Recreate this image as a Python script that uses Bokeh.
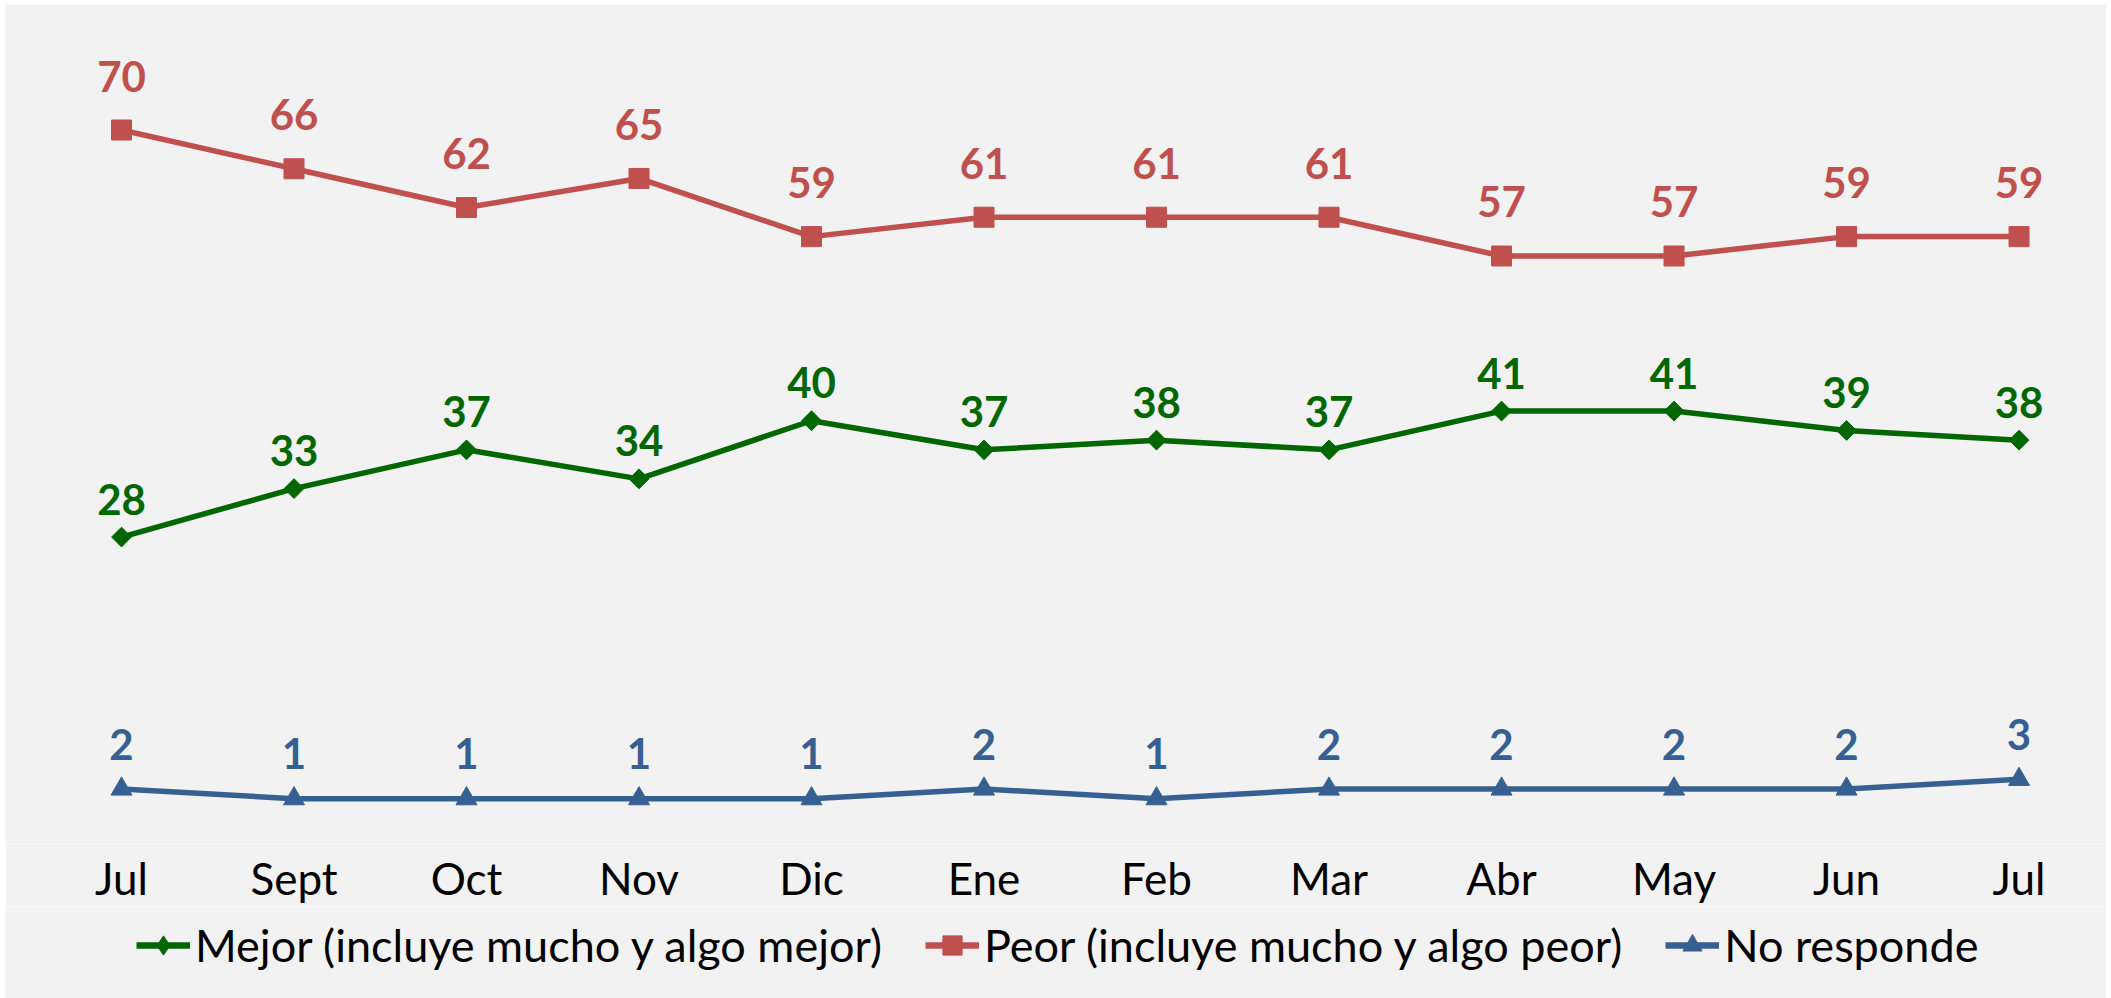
import numpy as np
from bokeh.plotting import figure
from bokeh.layouts import column
from bokeh.models import Range1d, Legend, LegendItem, ColumnDataSource, FixedTicker
from bokeh.core.properties import value
from bokeh.embed import file_html
from bokeh.resources import INLINE

# ---- data ----
months = ["Jul", "Sept", "Oct", "Nov", "Dic", "Ene", "Feb", "Mar", "Abr", "May", "Jun", "Jul"]
mejor = [28, 33, 37, 34, 40, 37, 38, 37, 41, 41, 39, 38]
peor = [70, 66, 62, 65, 59, 61, 61, 61, 57, 57, 59, 59]
no_responde = [2, 1, 1, 1, 1, 2, 1, 2, 2, 2, 2, 3]
series_names = ["Mejor (incluye mucho y algo mejor)",
                "Peor (incluye mucho y algo peor)",
                "No responde"]

# ---- styles ----
colors = ["#006600", "#C0504D", "#376092"]
markers = ["square", "square", "triangle"]
legend_markers = ["diamond", "square", "triangle"]
angles = [np.pi / 4, 0, 0]
legend_angles = [0, 0, 0]
sizes = [14, 20, 21]
label_offsets = [-38, -54, -45]
FONT = "Lato"
BG = "#F2F2F2"

W = 2101
H_MAIN = 902
H_LEG = 92
xs = list(range(len(months)))

p = figure(width=W, height=H_MAIN, output_backend="svg", toolbar_location=None,
           x_range=Range1d(-0.6725, 11.507), y_range=Range1d(-3.31, 82.95),
           y_axis_location=None,
           background_fill_color=BG, border_fill_color=BG,
           min_border_left=0, min_border_right=0, min_border_top=0, min_border_bottom=0)
p.outline_line_color = None
p.grid.visible = False

ax = p.xaxis[0]
ax.ticker = FixedTicker(ticks=xs)
ax.major_label_overrides = {i: m for i, m in enumerate(months)}
ax.major_label_text_font = FONT
ax.major_label_text_font_size = "44px"
ax.major_label_text_color = "black"
ax.axis_line_color = None
ax.major_tick_line_color = None
ax.minor_tick_line_color = None
ax.major_label_standoff = 5

# legend strip
q = figure(width=W, height=H_LEG, output_backend="svg", toolbar_location=None,
           x_range=Range1d(0, 1), y_range=Range1d(0, 1),
           x_axis_location=None, y_axis_location=None,
           background_fill_color=BG, border_fill_color=BG,
           min_border_left=0, min_border_right=0, min_border_top=0, min_border_bottom=0)
q.outline_line_color = None
q.grid.visible = False

items = []
for vals, name, c, m, lm, a, la, s, off in zip([mejor, peor, no_responde], series_names,
                                               colors, markers, legend_markers, angles,
                                               legend_angles, sizes, label_offsets):
    src = ColumnDataSource(dict(x=xs, y=vals, lbl=[str(v) for v in vals]))
    p.line("x", "y", source=src, line_color=c, line_width=5.5)
    p.scatter("x", "y", source=src, marker=m, size=s, angle=a,
              fill_color=c, line_color=c)
    p.text("x", "y", text="lbl", source=src, text_font=value(FONT),
           text_font_style="bold", text_font_size="42px", text_color=c,
           text_align="center", text_baseline="alphabetic", y_offset=off)
    # legend sample glyphs (not drawn in the strip: NaN data)
    dummy = ColumnDataSource(dict(x=[np.nan], y=[np.nan]))
    l1 = q.line("x", "y", source=dummy, line_color=c, line_width=6.5)
    l2 = q.scatter("x", "y", source=dummy, marker=lm, size=s, angle=la,
                   fill_color=c, line_color=c)
    items.append(LegendItem(label=name, renderers=[l1, l2]))

legend = Legend(items=items, orientation="horizontal", location=(131, 26),
                glyph_width=54, glyph_height=48, label_standoff=5, spacing=43,
                padding=5, margin=0, label_text_font=FONT,
                label_text_font_size="45px", label_text_color="black",
                border_line_color=None, background_fill_alpha=0)
q.add_layout(legend)

layout = column(p, q, spacing=0, margin=(4, 0, 0, 5))
open("out.html", "w").write(file_html(layout, INLINE))
